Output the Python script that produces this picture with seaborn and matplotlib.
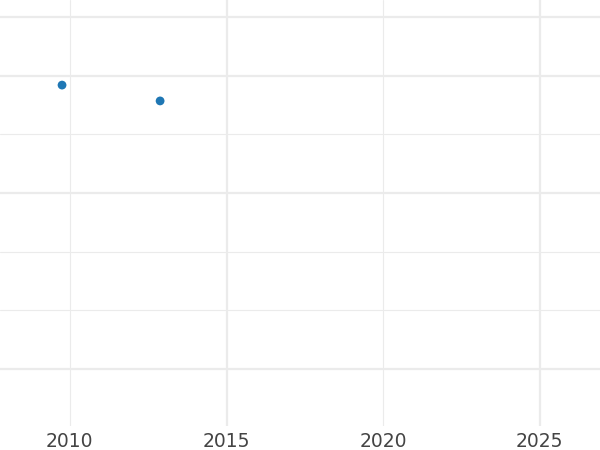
import matplotlib
matplotlib.use("Agg")
import matplotlib.pyplot as plt
import pandas as pd
import seaborn as sns

# data
years = [2009.75, 2012.88]
values = [4.84, 4.57]

x_ticks = [2010, 2015, 2020, 2025]
x_tick_labels = ["2010", "2015", "2020", "2025"]
y_ticks = [0, 1, 2, 3, 4, 5, 6]

# gridline weights (True = heavy line)
x_heavy = [False, True, False, True]
y_heavy = [True, False, False, True, False, True, True]

sns.set_theme(style="white")
plt.rcParams["font.family"] = ["DejaVu Sans"]

df = pd.DataFrame({"year": years, "value": values})

fig = plt.figure(figsize=(6, 4.5), dpi=100)
ax = fig.add_axes([0, 1 - 426 / 450, 1, 426 / 450])

sns.scatterplot(data=df, x="year", y="value", ax=ax, color="#1f77b4",
                s=40, edgecolor="none", zorder=3)

ax.set_xlim(2007.77, 2026.92)
ax.set_ylim(-0.97, 6.29)
ax.set_xticks(x_ticks)
ax.set_xticklabels(x_tick_labels)
ax.set_yticks(y_ticks)
ax.set_yticklabels([])
ax.set_xlabel("")
ax.set_ylabel("")

ax.grid(True, color="#ebebeb")
for line, heavy in zip(ax.xaxis.get_gridlines(), x_heavy):
    line.set_linewidth(1.6 if heavy else 0.8)
for line, heavy in zip(ax.yaxis.get_gridlines(), y_heavy):
    line.set_linewidth(1.6 if heavy else 0.8)

ax.tick_params(axis="both", length=0)
ax.tick_params(axis="x", labelsize=13.5, labelcolor="#444444", pad=4)
for spine in ax.spines.values():
    spine.set_visible(False)

fig.savefig("out.png", dpi=100)
